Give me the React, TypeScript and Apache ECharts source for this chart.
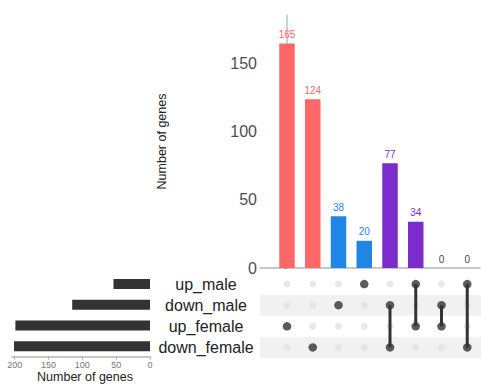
import React, { useEffect, useRef } from "react";
import * as echarts from "echarts";

const sets = ["up_male", "down_male", "up_female", "down_female"];
const setSizes = [54, 115, 199, 201];
const intersections: string[][] = [
  ["up_female"],
  ["down_female"],
  ["down_male"],
  ["up_male"],
  ["down_male", "down_female"],
  ["up_male", "up_female"],
  ["down_male", "up_female"],
  ["up_male", "down_female"],
];
const counts = [165, 124, 38, 20, 77, 34, 0, 0];
const groups = ["female", "female", "male", "male", "pair", "pair", "none", "none"];
const groupColors: Record<string, string> = {
  female: "#fe6767",
  male: "#1f86e8",
  pair: "#7b2ccb",
  none: "#444444",
};

const FONT = "Liberation Sans, Arial, sans-serif";

export default function App() {
  const ref = useRef<HTMLDivElement>(null);
  useEffect(() => {
    if (!ref.current) return;
    const chart = echarts.init(ref.current, undefined, { renderer: "svg" });

    const xMin = -1.049;
    const xMax = 7.495;

    const inactive: any[] = [];
    const active: any[] = [];
    const lineSeries: any[] = [];
    intersections.forEach((members, i) => {
      sets.forEach((s) => {
        if (members.includes(s)) active.push([i, s]);
        else inactive.push([i, s]);
      });
      if (members.length > 1) {
        const idx = members.map((m) => sets.indexOf(m)).sort((a, b) => a - b);
        lineSeries.push({
          type: "line",
          xAxisIndex: 1,
          yAxisIndex: 1,
          data: [
            [i, sets[idx[0]]],
            [i, sets[idx[idx.length - 1]]],
          ],
          symbol: "none",
          lineStyle: { color: "#333333", width: 3 },
          z: 3,
          silent: true,
        });
      }
    });

    chart.setOption({
      animation: false,
      textStyle: { fontFamily: FONT },
      grid: [
        { left: 260, width: 220, top: 15, height: 253 },
        { left: 260, width: 221, top: 273.5, height: 84.5 },
        { left: 12, width: 138, top: 273.5, height: 83 },
      ],
      xAxis: [
        {
          gridIndex: 0,
          type: "value",
          min: xMin,
          max: xMax,
          axisLine: { show: true, lineStyle: { color: "#b5b5b5", width: 1.5 } },
          axisTick: { show: false },
          axisLabel: { show: false },
          splitLine: { show: false },
        },
        {
          gridIndex: 1,
          type: "value",
          min: xMin,
          max: xMax + 0.039,
          show: false,
          splitLine: { show: false },
        },
        {
          gridIndex: 2,
          type: "value",
          inverse: true,
          min: 0,
          max: 204,
          interval: 50,
          name: "Number of genes",
          nameLocation: "middle",
          nameGap: 13,
          nameTextStyle: { fontSize: 12.5, color: "#222222", padding: [0, 0, 0, 8] },
          axisLine: { show: true, lineStyle: { color: "#b5b5b5", width: 1.5 } },
          axisTick: { show: true, length: 3, lineStyle: { color: "#aaaaaa" } },
          axisLabel: {
            fontSize: 9,
            color: "#777777",
            margin: 4,
            showMaxLabel: false,
            formatter: (v: number) => (v % 50 === 0 ? String(v) : ""),
          },
          splitLine: { show: false },
        },
      ],
      yAxis: [
        {
          gridIndex: 0,
          type: "value",
          min: 0,
          max: 186,
          interval: 50,
          name: "Number of genes",
          nameLocation: "middle",
          nameGap: 92,
          nameTextStyle: { fontSize: 12.5, color: "#222222" },
          axisLine: { show: true, lineStyle: { color: "#c2c2c2", width: 1.5 } },
          axisTick: { show: true, length: 3, lineStyle: { color: "#999999" } },
          axisLabel: {
            fontSize: 16,
            color: "#4d4d4d",
            margin: 3,
            showMaxLabel: false,
            formatter: (v: number) => (v % 50 === 0 ? String(v) : ""),
          },
          splitLine: { show: false },
        },
        {
          gridIndex: 1,
          type: "category",
          data: sets,
          inverse: true,
          axisLine: { show: false },
          axisTick: { show: false },
          axisLabel: {
            fontSize: 16,
            color: "#222222",
            align: "center",
            margin: 54,
          },
          splitArea: {
            show: true,
            areaStyle: { color: ["rgba(255,255,255,0)", "#f1f1f1"] },
          },
        },
        {
          gridIndex: 2,
          type: "category",
          data: sets,
          inverse: true,
          show: false,
        },
      ],
      series: [
        {
          type: "bar",
          xAxisIndex: 0,
          yAxisIndex: 0,
          barWidth: 15.5,
          data: counts.map((c, i) => ({
            value: [i, c],
            itemStyle: { color: groupColors[groups[i]] },
            label: { color: groupColors[groups[i]] },
          })),
          label: {
            show: true,
            position: "top",
            distance: 4,
            fontSize: 10,
            formatter: (p: any) => String(p.value[1]),
          },
        },
        {
          type: "scatter",
          xAxisIndex: 1,
          yAxisIndex: 1,
          data: inactive,
          symbolSize: 7,
          itemStyle: { color: "#e2e2e2" },
          z: 2,
          silent: true,
        },
        ...lineSeries,
        {
          type: "scatter",
          xAxisIndex: 1,
          yAxisIndex: 1,
          data: active,
          symbolSize: 8.5,
          itemStyle: { color: "#333333" },
          z: 4,
          silent: true,
        },
        {
          type: "bar",
          xAxisIndex: 2,
          yAxisIndex: 2,
          barWidth: 10,
          data: setSizes,
          itemStyle: { color: "#333333" },
        },
      ],
    });
    return () => chart.dispose();
  }, []);
  return (
    <div
      ref={ref}
      style={{ position: "fixed", left: 0, top: 0, width: 481, height: 387, background: "#ffffff" }}
    />
  );
}
